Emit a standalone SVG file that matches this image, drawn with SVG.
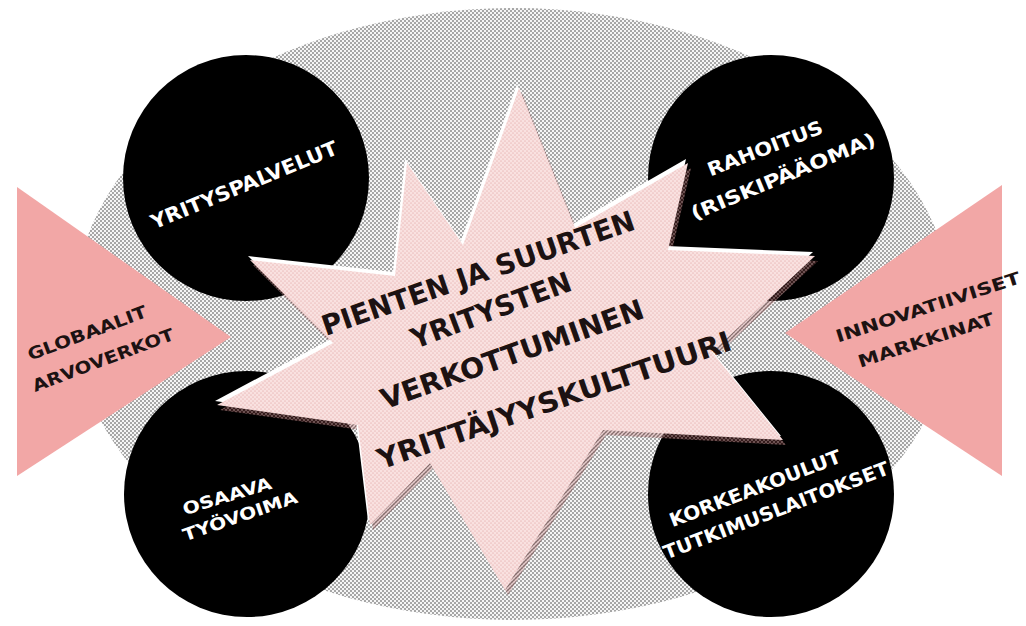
<svg xmlns="http://www.w3.org/2000/svg" width="1026" height="626" viewBox="0 0 1026 626">
<defs>
<pattern id="dots" width="4" height="4" patternUnits="userSpaceOnUse">
<rect width="4" height="4" fill="#f6f6f6"/>
<circle cx="1" cy="1" r="0.95" fill="#858585"/>
<circle cx="3" cy="3" r="0.95" fill="#858585"/>
</pattern>
<pattern id="pdots" width="4" height="4" patternUnits="userSpaceOnUse">
<rect width="4" height="4" fill="#f9e1e0"/>
<circle cx="1" cy="1" r="0.85" fill="#ecc0bf"/>
<circle cx="3" cy="3" r="0.85" fill="#ecc0bf"/>
</pattern>
<pattern id="sdots" width="4" height="4" patternUnits="userSpaceOnUse">
<rect width="4" height="4" fill="#d9a5a5"/>
<circle cx="1" cy="1" r="1.1" fill="#5a2a2a"/>
<circle cx="3" cy="3" r="1.1" fill="#5a2a2a"/>
</pattern>
<polygon id="starShape" points="519,88 575,228 688,163 668,250 815,256 712,352 783,440 603,430 505,590 430,463 370,525 358,425 217,405 333,343 250,260 395,276 407,163 463,245"/>
</defs>
<style>
.circle { fill: #000; }
.tri { fill: #f2a7a6; }
.t { font-family: "DejaVu Sans Condensed", "DejaVu Sans", sans-serif; font-weight: bold; text-anchor: middle; }
.w { fill: #ffffff; }
.k { fill: #1c1212; }
</style>
<rect width="1026" height="626" fill="#ffffff"/>
<g id="background">
<ellipse cx="513" cy="314" rx="440" ry="306" fill="url(#dots)"/>
</g>
<g id="globaalit-arvoverkot">
<polygon class="tri" points="17,187 17,476 231,337"/>
<text class="t k" font-size="17" transform="translate(87,333) rotate(-20.6)" y="6" textLength="126" lengthAdjust="spacingAndGlyphs">GLOBAALIT</text>
<text class="t k" font-size="17" transform="translate(103,360) rotate(-20.6)" y="6" textLength="150" lengthAdjust="spacingAndGlyphs">ARVOVERKOT</text>
</g>
<g id="innovatiiviset-markkinat">
<polygon class="tri" points="1002,185 1002,476 785,333"/>
<text class="t k" font-size="17" transform="translate(928,307) rotate(-18)" y="6" textLength="193" lengthAdjust="spacingAndGlyphs">INNOVATIIVISET</text>
<text class="t k" font-size="17" transform="translate(926,340) rotate(-18)" y="6" textLength="142" lengthAdjust="spacingAndGlyphs">MARKKINAT</text>
</g>
<g id="yrityspalvelut">
<circle class="circle" cx="246" cy="178" r="123"/>
<text class="t w" font-size="20" transform="translate(244,185) rotate(-22.3)" y="7" textLength="200" lengthAdjust="spacingAndGlyphs">YRITYSPALVELUT</text>
</g>
<g id="rahoitus">
<circle class="circle" cx="771" cy="178" r="123"/>
<text class="t w" font-size="19" transform="translate(765,148) rotate(-21)" y="7" textLength="122" lengthAdjust="spacingAndGlyphs">RAHOITUS</text>
<text class="t w" font-size="19" transform="translate(783,176) rotate(-22.5)" y="7" textLength="198" lengthAdjust="spacingAndGlyphs">(RISKIPÄÄOMA)</text>
</g>
<g id="osaava-tyovoima">
<circle class="circle" cx="247" cy="494" r="123"/>
</g>
<g id="korkeakoulut">
<circle class="circle" cx="771" cy="494" r="123"/>
</g>
<g id="center-star">
<use href="#starShape" transform="translate(3,5)" fill="url(#sdots)" opacity="0.5"/>
<use href="#starShape" transform="translate(-2,-4)" fill="#ffffff"/>
<use href="#starShape" fill="url(#pdots)"/>
<text class="t k" font-size="28" transform="translate(478,273) rotate(-19)" y="10" textLength="329" lengthAdjust="spacingAndGlyphs">PIENTEN JA SUURTEN</text>
<text class="t k" font-size="28" transform="translate(491,310) rotate(-20.5)" y="10" textLength="169" lengthAdjust="spacingAndGlyphs">YRITYSTEN</text>
<text class="t k" font-size="28" transform="translate(512,354) rotate(-19.4)" y="10" textLength="277" lengthAdjust="spacingAndGlyphs">VERKOTTUMINEN</text>
<text class="t k" font-size="28" transform="translate(554,400) rotate(-18.8)" y="10" textLength="372" lengthAdjust="spacingAndGlyphs">YRITTÄJYYSKULTTUURI</text>
</g>
<g id="labels-lower">
<text class="t w" font-size="17" transform="translate(227,496) rotate(-17)" y="6" textLength="92" lengthAdjust="spacingAndGlyphs">OSAAVA</text>
<text class="t w" font-size="17" transform="translate(240,516) rotate(-19)" y="6" textLength="120" lengthAdjust="spacingAndGlyphs">TYÖVOIMA</text>
<text class="t w" font-size="19" transform="translate(755,488) rotate(-21)" y="7" textLength="182" lengthAdjust="spacingAndGlyphs">KORKEAKOULUT</text>
<text class="t w" font-size="19" transform="translate(776,510) rotate(-21)" y="7" textLength="240" lengthAdjust="spacingAndGlyphs">TUTKIMUSLAITOKSET</text>
</g>
</svg>
